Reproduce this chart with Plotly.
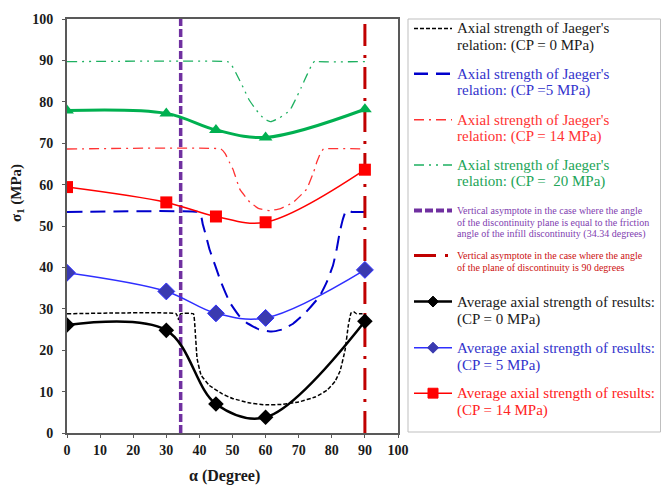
import plotly.graph_objects as go

# ---------------- data ----------------
alpha_tests = [0, 30, 45, 60, 90]
avg_cp0 = [26.1, 24.8, 7.0, 3.8, 27.0]
avg_cp5 = [38.7, 34.2, 28.9, 27.8, 39.4]
avg_cp14 = [59.4, 55.7, 52.3, 50.9, 63.6]
avg_cp20 = [77.9, 77.2, 73.2, 71.4, 78.2]

jaeger0_x = [0, 33, 33.7, 34.3, 38.2, 38.7, 39.3, 40.5, 43, 47, 50, 55, 60, 65, 70, 75, 78.5, 81, 82.5, 84, 85, 85.8, 86.6, 87.5, 90]
jaeger0_y = [28.8, 28.8, 27.4, 28.8, 28.8, 25, 18, 14, 11.5, 9.4, 8.35, 7.3, 6.8, 6.9, 7.5, 8.7, 10.3, 12.5, 15, 20, 26, 29, 29.3, 28.8, 28.8]

jaeger5_x = [0, 39.5, 40.5, 41, 41.7, 43, 44.7, 46.5, 49.2, 52, 54.3, 58, 61.8, 65, 68.3, 72, 76.3, 78.5, 80.4, 81.5, 82.4, 83.3, 84.2, 85, 86, 90]
jaeger5_y = [53.4, 53.4, 52.5, 50.5, 48.5, 44.5, 40.6, 36.5, 31.5, 28.3, 26.6, 25, 24.5, 25, 26.4, 29, 33, 36.5, 40.6, 44.5, 48.5, 51.5, 53.6, 53.8, 53.4, 53.4]

jaeger14_x = [0, 46.5, 47.8, 49, 50.2, 52.2, 55.3, 58, 61.3, 64.5, 68.3, 72.4, 74.5, 75.5, 76.5, 77.5, 90]
jaeger14_y = [68.6, 68.6, 67.5, 65.5, 63.6, 58.9, 55.7, 54.2, 53.7, 54.2, 55.7, 58.9, 63, 65.5, 67.5, 68.6, 68.6]

jaeger20_x = [0, 48.5, 49.5, 51, 53.2, 55, 57.3, 59.5, 61.6, 64, 67.3, 69, 70.8, 72.5, 74, 75, 76, 90]
jaeger20_y = [89.7, 89.7, 89.2, 87, 83.5, 80.5, 77.9, 75.9, 75.2, 76, 77.9, 80.5, 83.5, 86.5, 89, 90, 89.7, 89.7]

asym_friction = 34.34
asym_90 = 90
y_limits = [0, 100]

x_ticks = list(range(0, 101, 10))
y_ticks = list(range(0, 101, 10))

legend_items = [
    ["Axial strength of Jaeger's", "relation: (CP = 0 MPa)"],
    ["Axial strength of Jaeger's", "relation: (CP =5 MPa)"],
    ["Axial strength of Jaeger's", "relation: (CP = 14 MPa)"],
    ["Axial strength of Jaeger's", "relation: (CP =  20 MPa)"],
    ["Vertical asymptote in the case where the angle",
     "of the discontinuity plane is equal to the friction",
     "angle of the infill discontinuity (34.34 degrees)"],
    ["Vertical asymptote in the case where the angle",
     "of the plane of discontinuity is 90 degrees"],
    ["Average axial strength of results:", "(CP = 0 MPa)"],
    ["Average axial strength of results:", "(CP = 5 MPa)"],
    ["Average axial strength of results:", "(CP = 14 MPa)"],
]

# ---------------- figure ----------------
W, H = 667, 490
L, R, T, B = 67, 269, 14, 57
PW, PH = W - L - R, H - T - B
FONT = "Liberation Serif"


def px(x):
    return (x - L) / PW


def py(y):
    return (H - B - y) / PH


fig = go.Figure()

fig.add_trace(go.Scatter(x=jaeger0_x, y=jaeger0_y, mode="lines",
                         line=dict(color="#000000", width=1.5, dash="4px,2px", shape="spline", smoothing=0.3),
                         showlegend=False))
fig.add_trace(go.Scatter(x=jaeger5_x, y=jaeger5_y, mode="lines",
                         line=dict(color="#0000CC", width=2, dash="15px,8px", shape="spline", smoothing=0.3),
                         showlegend=False))
fig.add_trace(go.Scatter(x=jaeger14_x, y=jaeger14_y, mode="lines",
                         line=dict(color="#FF3333", width=1.3, dash="10px,5px,2px,5px", shape="spline", smoothing=0.3),
                         showlegend=False))
fig.add_trace(go.Scatter(x=jaeger20_x, y=jaeger20_y, mode="lines",
                         line=dict(color="#1DB060", width=1.3, dash="10px,5px,2px,5px,2px,5px", shape="spline", smoothing=0.3),
                         showlegend=False))

# vertical asymptotes
fig.add_trace(go.Scatter(x=[asym_friction, asym_friction], y=y_limits, mode="lines",
                         line=dict(color="#7030A0", width=3.5, dash="8px,3px"), showlegend=False))
fig.add_trace(go.Scatter(x=[asym_90, asym_90], y=y_limits, mode="lines",
                         line=dict(color="#C00000", width=3, dash="22px,9px,3px,9px"), showlegend=False))

# measured averages
fig.add_trace(go.Scatter(x=alpha_tests, y=avg_cp20, mode="lines+markers",
                         line=dict(color="#00B050", width=3, shape="spline", smoothing=1),
                         marker=dict(symbol="triangle-up", size=12, color="#00B050"), showlegend=False))
fig.add_trace(go.Scatter(x=alpha_tests, y=avg_cp14, mode="lines+markers",
                         line=dict(color="#FF0000", width=1.5, shape="spline", smoothing=1),
                         marker=dict(symbol="square", size=12, color="#FF0000"), showlegend=False))
fig.add_trace(go.Scatter(x=alpha_tests, y=avg_cp5, mode="lines+markers",
                         line=dict(color="#2F2FFF", width=1.5, shape="spline", smoothing=1),
                         marker=dict(symbol="diamond", size=13, color="#3A3AB0", line=dict(color="#2F2FFF", width=1)),
                         showlegend=False))
fig.add_trace(go.Scatter(x=alpha_tests, y=avg_cp0, mode="lines+markers",
                         line=dict(color="#000000", width=2.5, shape="spline", smoothing=1),
                         marker=dict(symbol="diamond", size=12, color="#000000"), showlegend=False))

shapes = []
annotations = []

# legend box
shapes.append(dict(type="rect", xref="paper", yref="paper",
                   x0=px(408), x1=px(660.5), y0=py(432), y1=py(14),
                   line=dict(color="#BFBFBF", width=1), fillcolor="rgba(0,0,0,0)"))

sample_styles = [
    dict(color="#000000", width=1.5, dash="4px,2px"),
    dict(color="#0000CC", width=2.5, dash="14px,8px"),
    dict(color="#FF3333", width=1.5, dash="10px,5px,2px,5px"),
    dict(color="#1DB060", width=1.5, dash="10px,5px,2px,5px,2px,5px"),
    dict(color="#7030A0", width=4, dash="8px,3px"),
    dict(color="#C00000", width=3, dash="22px,9px,3px,9px"),
    dict(color="#000000", width=2.5),
    dict(color="#2F2FFF", width=1.5),
    dict(color="#FF0000", width=1.5),
]
text_colors = ["#1A1A1A", "#3333CC", "#FF3333", "#22A558", "#8040B0", "#CC1010",
               "#1A1A1A", "#3333CC", "#FF2222"]
first_line_y = [23.5, 69.3, 116, 161.7, 207.7, 253.3, 300, 346.7, 392.7]
line_gaps = [17, 17, 17, 17, 12, 12.4, 18.5, 17.5, 17.5]
font_sizes = [15, 15, 15, 15, 10, 10, 15, 15, 15]

for i, lines in enumerate(legend_items):
    y0 = first_line_y[i]
    shapes.append(dict(type="line", xref="paper", yref="paper",
                       x0=px(414), x1=px(452), y0=py(y0), y1=py(y0),
                       line=sample_styles[i]))
    for j, t in enumerate(lines):
        annotations.append(dict(xref="paper", yref="paper", x=px(455), y=py(y0 + j * line_gaps[i]),
                                text=t, showarrow=False, xanchor="left", yanchor="middle",
                                font=dict(family=FONT, size=font_sizes[i], color=text_colors[i])))


def diamond(cx, cy, r, color):
    path = (f"M {px(cx)} {py(cy - r)} L {px(cx + r)} {py(cy)} "
            f"L {px(cx)} {py(cy + r)} L {px(cx - r)} {py(cy)} Z")
    return dict(type="path", xref="paper", yref="paper", path=path,
                fillcolor=color, line=dict(color=color, width=1))


shapes.append(diamond(433, first_line_y[6], 5.5, "#000000"))
shapes.append(diamond(433, first_line_y[7], 5.5, "#3A3AB0"))
shapes.append(dict(type="rect", xref="paper", yref="paper",
                   x0=px(428), x1=px(438), y0=py(first_line_y[8] + 5), y1=py(first_line_y[8] - 5),
                   fillcolor="#FF0000", line=dict(color="#FF0000", width=1)))

# axis titles
annotations.append(dict(xref="paper", yref="paper", x=px(17), y=py(190),
                        text="<b>σ<sub>1</sub> (MPa)</b>", showarrow=False, textangle=-90,
                        xanchor="center", yanchor="middle",
                        font=dict(family=FONT, size=15, color="#1A1A1A")))
annotations.append(dict(xref="paper", yref="paper", x=px(224), y=py(477),
                        text="<b>α (Degree)</b>", showarrow=False,
                        xanchor="center", yanchor="middle",
                        font=dict(family=FONT, size=16, color="#1A1A1A")))

axis_common = dict(showline=True, linecolor="#595959", linewidth=2, mirror=True,
                   ticks="outside", ticklen=3, tickcolor="#595959", tickwidth=1,
                   showgrid=False, zeroline=False,
                   tickfont=dict(family=FONT, size=14, color="#1A1A1A", weight="bold"))

fig.update_layout(
    width=W, height=H, autosize=False,
    margin=dict(l=L, r=R, t=T, b=B, pad=0),
    paper_bgcolor="white", plot_bgcolor="white",
    showlegend=False,
    shapes=shapes, annotations=annotations,
    xaxis=dict(range=[0, 100], tickvals=x_ticks, **axis_common),
    yaxis=dict(range=[0, 100], tickvals=y_ticks, ticklabelstandoff=6, **axis_common),
)

fig.write_html("out.html", config={"displayModeBar": False},
               post_script="document.body.style.margin='0';document.body.style.overflow='hidden';")
